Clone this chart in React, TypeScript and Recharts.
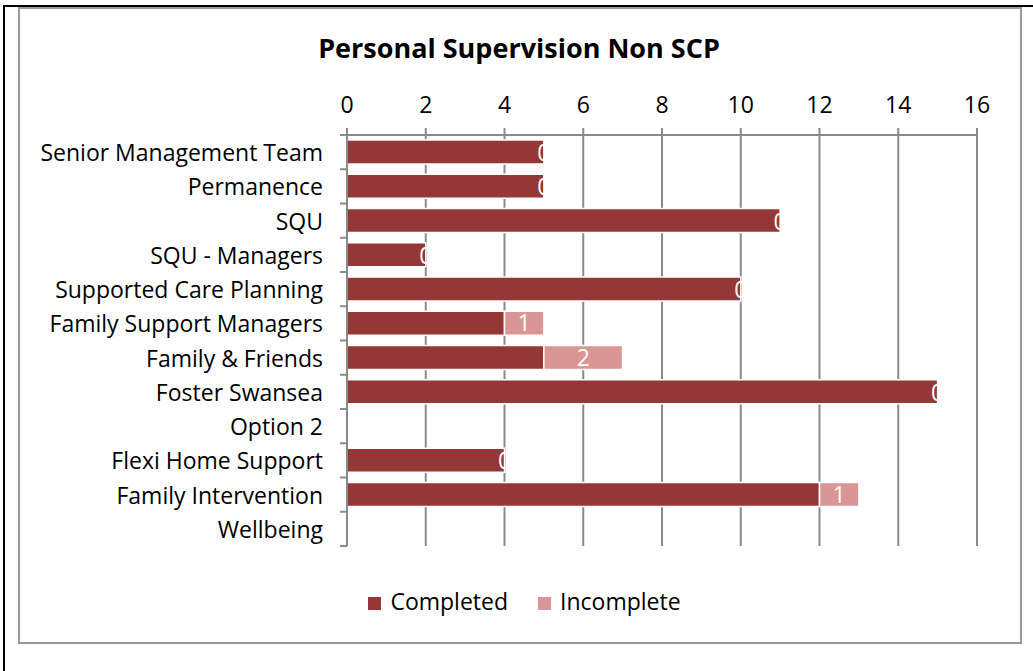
import React from 'react';
import { BarChart, Bar, XAxis, YAxis, CartesianGrid, Legend, LabelList } from 'recharts';

const categories = [
  'Senior Management Team',
  'Permanence',
  'SQU',
  'SQU - Managers',
  'Supported Care Planning',
  'Family Support Managers',
  'Family & Friends',
  'Foster Swansea',
  'Option 2',
  'Flexi Home Support',
  'Family Intervention',
  'Wellbeing',
];
const completed: (number | null)[] = [5, 5, 11, 2, 10, 4, 5, 15, null, 4, 12, null];
const incomplete: (number | null)[] = [0, 0, 0, 0, 0, 1, 2, 0, null, 0, 1, null];
const xTicks = [0, 2, 4, 6, 8, 10, 12, 14, 16];

const data = categories.map((name, i) => ({ name, completed: completed[i], incomplete: incomplete[i] }));

const FONT = '"Open Sans", Lato, sans-serif';
const FS = 23;
const GRID = '#8a8a8a';

const CatTick = (props: any) => {
  const { x, y, payload, index } = props;
  const off = payload && payload.offset ? payload.offset : 17;
  const ax = x + 24;
  return (
    <g>
      <text x={x} y={y} textAnchor="end" dominantBaseline="central" fontSize={FS} fill="#000" fontFamily={FONT}>
        {payload.value}
      </text>
      <line x1={ax - 7} x2={ax} y1={y - off} y2={y - off} stroke={GRID} strokeWidth={2} />
      {index === categories.length - 1 ? (
        <line x1={ax - 7} x2={ax} y1={y + off} y2={y + off} stroke={GRID} strokeWidth={2} />
      ) : null}
    </g>
  );
};

const ZeroLabel = (props: any) => {
  const { x, y, width, height, value } = props;
  if (value !== 0) return null;
  return (
    <text x={x + width} y={y + height / 2} textAnchor="middle" dominantBaseline="central" fontSize={FS} fill="#fff" fontFamily={FONT}>
      {value}
    </text>
  );
};

export default function App() {
  return (
    <div style={{ position: 'absolute', left: 0, top: 0, width: 1033, height: 671, background: '#fff', fontFamily: FONT }}>
      <div style={{ position: 'absolute', left: 3, top: 5, width: 1030, height: 2, background: '#000' }} />
      <div style={{ position: 'absolute', left: 3, top: 5, width: 2, height: 666, background: '#000' }} />
      <div style={{ position: 'absolute', left: 18, top: 7, width: 1000, height: 633, border: '2px solid #999' }} />
      <div style={{ position: 'absolute', left: 18, top: 29, width: 1002, textAlign: 'center', fontWeight: 'bold', fontSize: 27, lineHeight: '38px', color: '#000' }}>
        Personal Supervision Non SCP
      </div>
      <div style={{ position: 'absolute', left: 18, top: 7 }}>
        <BarChart
          width={1002}
          height={635}
          data={data}
          layout="vertical"
          margin={{ top: 88, right: 43, left: 0, bottom: 66 }}
          barSize={24}
        >
          <CartesianGrid horizontal={false} vertical={true} stroke={GRID} strokeWidth={2} />
          <XAxis
            type="number"
            orientation="top"
            domain={[0, 16]}
            ticks={xTicks}
            interval={0}
            height={40}
            tickSize={7}
            tickMargin={15}
            axisLine={{ stroke: GRID, strokeWidth: 2 }}
            tickLine={{ stroke: GRID, strokeWidth: 2 }}
            tick={{ fontSize: FS, fill: '#000', fontFamily: FONT }}
          />
          <YAxis
            type="category"
            dataKey="name"
            width={329}
            tickSize={7}
            tickMargin={17}
            interval={0}
            axisLine={{ stroke: GRID, strokeWidth: 2 }}
            tickLine={false}
            tick={<CatTick />}
          />
          <Legend
            verticalAlign="bottom"
            align="center"
            height={30}
            iconType="square"
            iconSize={13}
            wrapperStyle={{ top: 578, bottom: 'auto', left: 42, fontSize: FS, fontFamily: FONT }}
            formatter={(value: string) => (
              <span style={{ color: '#000', marginLeft: 5, marginRight: 20 }}>{value}</span>
            )}
          />
          <Bar dataKey="completed" name="Completed" stackId="a" fill="#953735" stroke="#fff" strokeWidth={1.5} isAnimationActive={false}>
            <LabelList dataKey="incomplete" content={<ZeroLabel />} />
          </Bar>
          <Bar dataKey="incomplete" name="Incomplete" stackId="a" fill="#D99694" stroke="#fff" strokeWidth={1.5} isAnimationActive={false}>
            <LabelList dataKey="incomplete" position="center" fill="#fff" fontSize={FS} fontFamily={FONT} />
          </Bar>
        </BarChart>
      </div>
    </div>
  );
}
